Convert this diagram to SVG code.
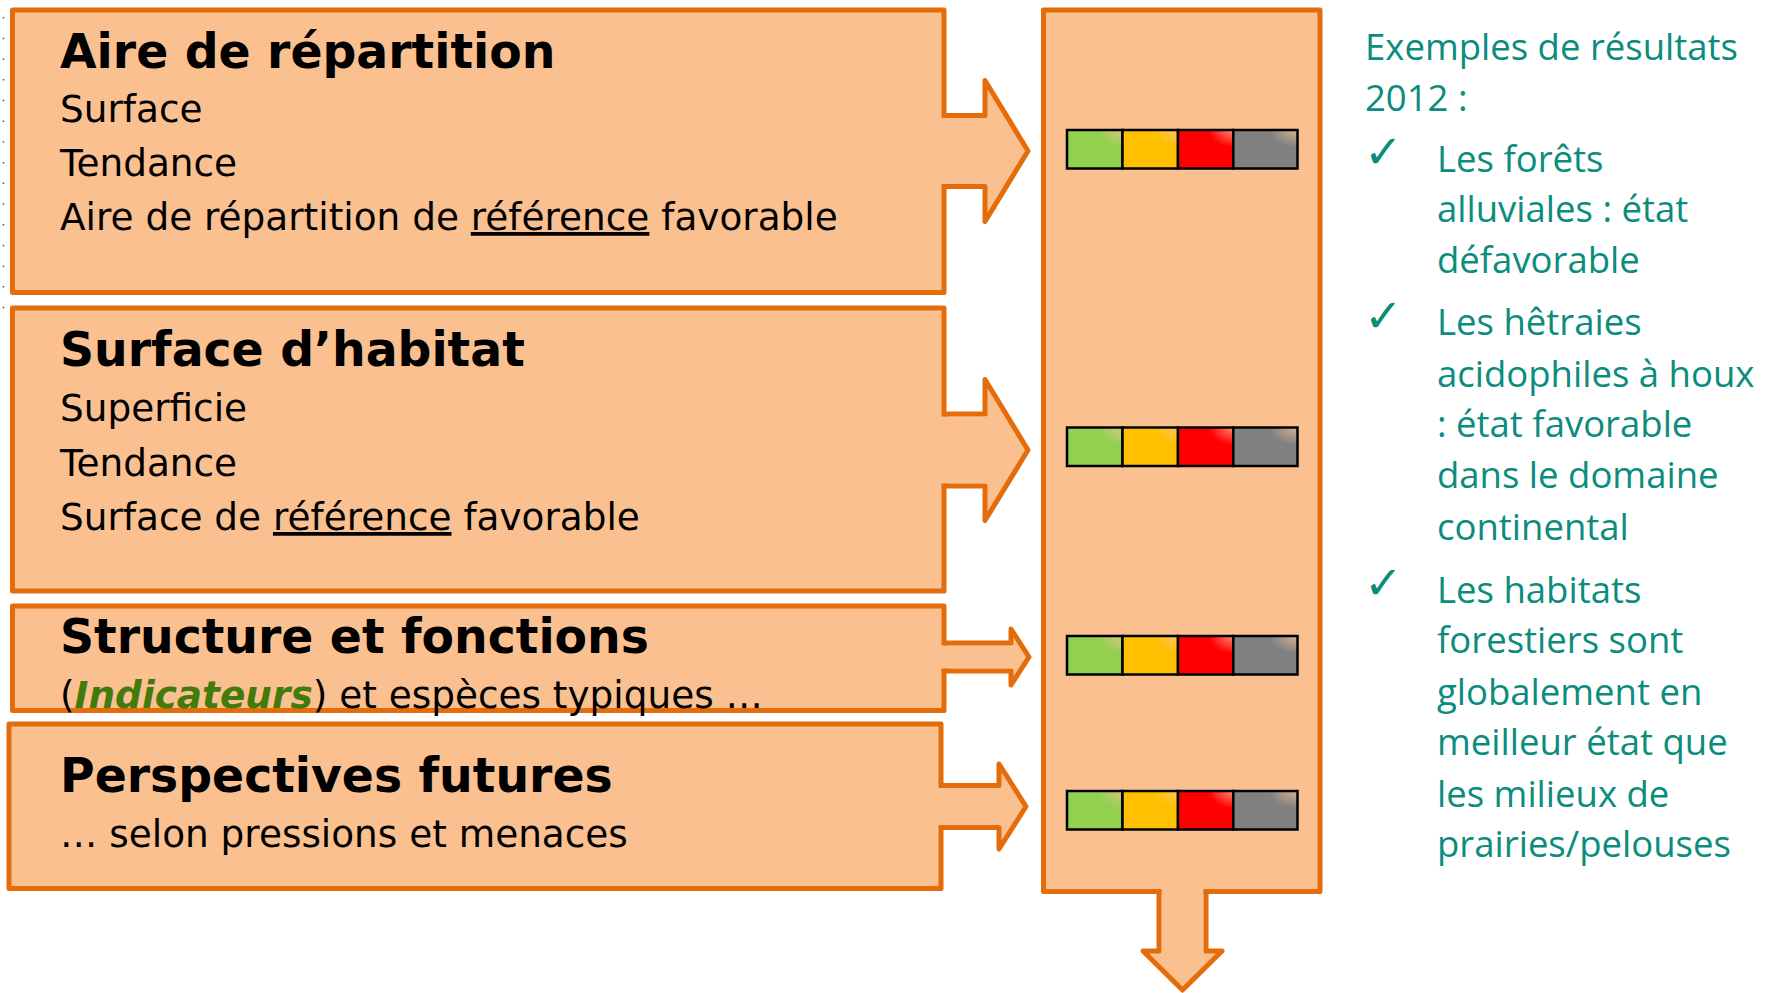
<svg xmlns="http://www.w3.org/2000/svg" width="1771" height="993" viewBox="0 0 1771 993">
<style>
.box{fill:#FAC090;stroke:#E46C0A;stroke-width:5;stroke-linejoin:round}
.afill{fill:#FAC090;stroke:none}
.aline{fill:none;stroke:#E46C0A;stroke-width:5;stroke-linejoin:round}
.title{font-family:"DejaVu Sans",Verdana,sans-serif;font-weight:bold;font-size:47.3px;fill:#000}
.body{font-family:"DejaVu Sans",Verdana,sans-serif;font-size:37.4px;fill:#000}
.ul{text-decoration:underline}
.ind{font-weight:bold;font-style:italic;fill:#437A0C}
.seg{stroke:#000;stroke-width:2.5}
.rt{font-family:"Open Sans","Noto Sans",sans-serif;font-size:36.5px;fill:#0B8C7D}
.chk{font-family:"DejaVu Sans",sans-serif;font-size:46px;fill:#0B8C7D}
</style>
<defs>
<radialGradient id="gG" cx="1" cy="0" r="0.75"><stop offset="0" stop-color="#D8C585"/><stop offset="0.6" stop-color="#92D050"/></radialGradient>
<radialGradient id="gY" cx="1" cy="0" r="0.75"><stop offset="0" stop-color="#FFC85A"/><stop offset="0.6" stop-color="#FFC000"/></radialGradient>
<radialGradient id="gR" cx="1" cy="0" r="0.75"><stop offset="0" stop-color="#FF8A6E"/><stop offset="0.6" stop-color="#FF0000"/></radialGradient>
<radialGradient id="gK" cx="1" cy="0" r="0.75"><stop offset="0" stop-color="#D8B391"/><stop offset="0.6" stop-color="#808080"/></radialGradient>
<g id="bar">
<rect class="seg" x="1067" y="0" width="55.5" height="38.5" fill="url(#gG)"/>
<rect class="seg" x="1122.5" y="0" width="55.5" height="38.5" fill="url(#gY)"/>
<rect class="seg" x="1178" y="0" width="55.3" height="38.5" fill="url(#gR)"/>
<rect class="seg" x="1233.3" y="0" width="64.2" height="38.5" fill="url(#gK)"/>
</g>
</defs>
<rect width="1771" height="993" fill="#fff"/>
<line x1="3.5" y1="17" x2="3.5" y2="312" stroke="#555" stroke-width="1.5" stroke-dasharray="1.5 19.2"/>

<g id="aire">
<rect class="box" x="12.5" y="10" width="931.5" height="282.5"/>
<text class="title" x="60" y="68">Aire de répartition</text>
<text class="body" x="60" y="122">Surface</text>
<text class="body" x="60" y="176">Tendance</text>
<text class="body" x="60" y="230">Aire de répartition de <tspan class="ul">référence</tspan> favorable</text>
</g>

<g id="surface">
<rect class="box" x="12.5" y="308" width="931.5" height="283"/>
<text class="title" x="60" y="366">Surface d’habitat</text>
<text class="body" x="60" y="421">Superficie</text>
<text class="body" x="60" y="476">Tendance</text>
<text class="body" x="60" y="530">Surface de <tspan class="ul">référence</tspan> favorable</text>
</g>

<g id="structure">
<rect class="box" x="12.5" y="606" width="931.5" height="104.5"/>
<text class="title" x="60" y="653">Structure et fonctions</text>
<text class="body" x="60" y="708">(<tspan class="ind">Indicateurs</tspan>) et espèces typiques …</text>
</g>

<g id="perspectives">
<rect class="box" x="9" y="724" width="932" height="164.5"/>
<text class="title" x="60" y="791.5">Perspectives futures</text>
<text class="body" x="60" y="846.5">… selon pressions et menaces</text>
</g>

<g id="etat">
<rect class="box" x="1043.5" y="10" width="276.5" height="881.5"/>
<use href="#bar" y="130"/>
<use href="#bar" y="427.5"/>
<use href="#bar" y="636"/>
<use href="#bar" y="791"/>
</g>

<g id="connectors">
<path class="afill" d="M940,118 H986 V80.5 L1028,151 L986,221.5 V184 H940 Z"/>
<path class="aline" d="M944,115.5 H985 V80.5 L1028,151 L985,221.5 V186.5 H944"/>
<path class="afill" d="M940,416.5 H986 V379.5 L1028,450 L986,520.5 V483.5 H940 Z"/>
<path class="aline" d="M944,414 H985 V379.5 L1028,450 L985,520.5 V486 H944"/>
<path class="afill" d="M940,645.5 H1012 V629 L1029,657 L1012,685 V668.5 H940 Z"/>
<path class="aline" d="M944,643 H1011 V629 L1029,657 L1011,685 V671 H944"/>
<path class="afill" d="M937,788 H1000 V764 L1026,806.5 L1000,849 V825 H937 Z"/>
<path class="aline" d="M941,785.5 H999 V764 L1026,806.5 L999,849 V827.5 H941"/>
<path class="afill" d="M1161.5,887 V952 H1143 L1182.5,990 L1222,952 H1203.5 V887 Z"/>
<path class="aline" d="M1159,891.5 V951 H1143 L1182.5,990 L1222,951 H1206 V891.5"/>
</g>

<g id="resultats">
<text class="rt" x="1365" y="60">Exemples de résultats</text>
<text class="rt" x="1365" y="111">2012 :</text>
<text class="chk" x="1364" y="168">✓</text>
<text class="rt" x="1437" y="172.3">Les forêts</text>
<text class="rt" x="1437" y="222">alluviales : état</text>
<text class="rt" x="1437" y="272.7">défavorable</text>
<text class="chk" x="1364" y="332">✓</text>
<text class="rt" x="1437" y="335">Les hêtraies</text>
<text class="rt" x="1437" y="387">acidophiles à houx</text>
<text class="rt" x="1437" y="437">: état favorable</text>
<text class="rt" x="1437" y="488.3">dans le domaine</text>
<text class="rt" x="1437" y="540">continental</text>
<text class="chk" x="1364" y="598.5">✓</text>
<text class="rt" x="1437" y="602.7">Les habitats</text>
<text class="rt" x="1437" y="653.3">forestiers sont</text>
<text class="rt" x="1437" y="705">globalement en</text>
<text class="rt" x="1437" y="755">meilleur état que</text>
<text class="rt" x="1437" y="806.7">les milieux de</text>
<text class="rt" x="1437" y="857">prairies/pelouses</text>
</g>
</svg>
